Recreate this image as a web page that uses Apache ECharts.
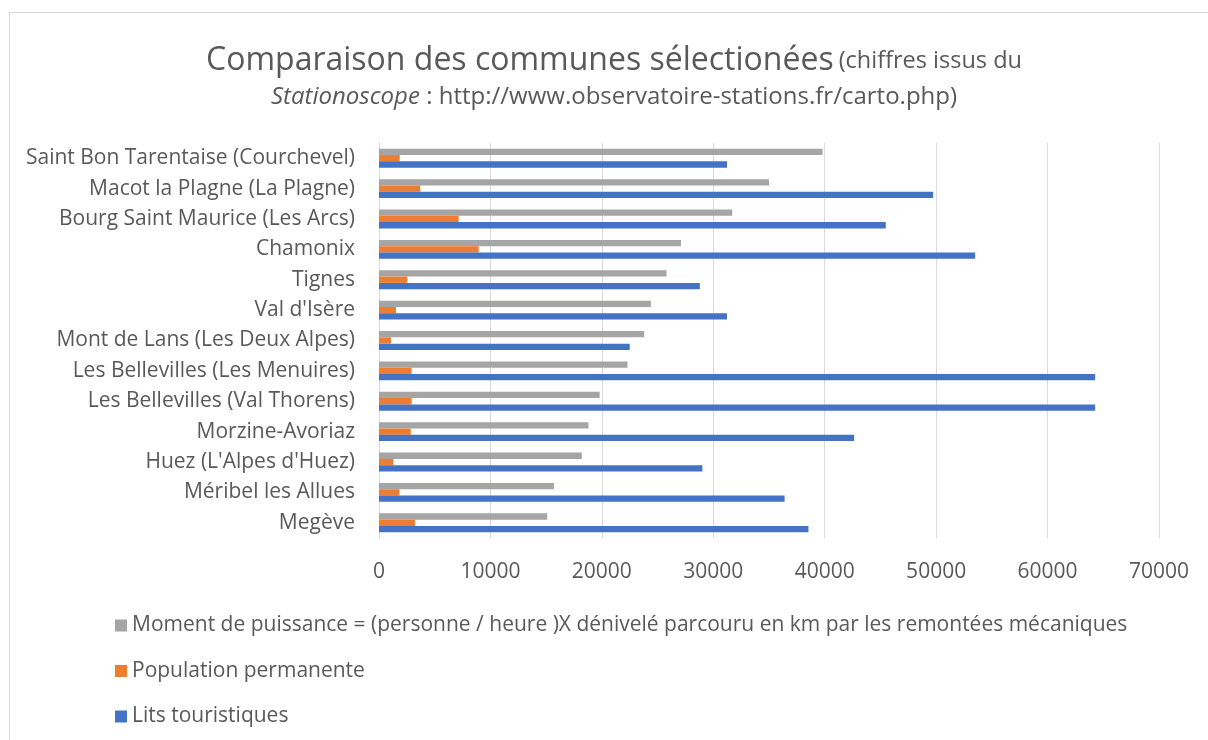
<!DOCTYPE html>
<html><head><meta charset="utf-8">
<script src="https://cdn.jsdelivr.net/npm/echarts@6/dist/echarts.min.js"></script>
<style>html,body{margin:0;padding:0;background:#fff}#c{width:1208px;height:740px}</style>
</head><body><div id="c"></div>
<script>
const categories = ["Saint Bon Tarentaise (Courchevel)","Macot la Plagne (La Plagne)","Bourg Saint Maurice (Les Arcs)","Chamonix","Tignes","Val d'Isère","Mont de Lans (Les Deux Alpes)","Les Bellevilles (Les Menuires)","Les Bellevilles (Val Thorens)","Morzine-Avoriaz","Huez (L'Alpes d'Huez)","Méribel les Allues","Megève"];
const momentPuissance = [39800,35000,31700,27100,25800,24400,23800,22300,19800,18800,18200,15700,15100];
const populationPermanente = [1860,3700,7150,8950,2540,1530,1080,2930,2930,2850,1290,1830,3230];
const litsTouristiques = [31230,49730,45480,53500,28790,31230,22500,64270,64270,42640,29020,36400,38540];
const seriesNames = ["Moment de puissance = (personne / heure )X dénivelé parcouru en km par les remontées mécaniques","Population permanente","Lits touristiques"];
const FONT = "Open Sans";
const chart = echarts.init(document.getElementById('c'), null, {renderer:'canvas'});
chart.setOption({
  animation:false,
  color:['#a5a5a5','#ed7d31','#4472c4'],
  title:{
    left:609, top:38, textAlign:'center',
    text:'{a|Comparaison des communes sélectionées} {b|(chiffres issus du}\n{i|Stationoscope}{c| : http://www.observatoire-stations.fr/carto.php)}',
    textStyle:{
      fontWeight:'normal',
      rich:{
        a:{fontFamily:FONT,fontSize:32,fontWeight:'normal',color:'#595959',lineHeight:36},
        b:{fontFamily:FONT,fontSize:23.5,fontWeight:'normal',color:'#595959',lineHeight:36},
        c:{fontFamily:FONT,fontSize:24,fontWeight:'normal',color:'#595959',lineHeight:36},
        i:{fontFamily:FONT,fontSize:24,fontWeight:'normal',fontStyle:'italic',color:'#595959',lineHeight:36}
      }
    }
  },
  graphic:[{type:'rect',shape:{x:9.5,y:12.5,width:1250,height:800},style:{fill:'none',stroke:'#d9d9d9',lineWidth:1},silent:true}],
  legend:{
    orient:'vertical', left:110, top:610, itemWidth:12, itemHeight:12, itemGap:24.5, icon:'rect',
    textStyle:{fontFamily:FONT,fontSize:21,color:'#595959',lineHeight:20},
    data:seriesNames
  },
  grid:{left:379,right:49,top:143,bottom:202,containLabel:false},
  xAxis:{type:'value',min:0,max:70000,interval:10000,
    axisLine:{show:false},axisTick:{show:false},
    splitLine:{lineStyle:{color:'#d9d9d9',width:1}},
    axisLabel:{fontFamily:FONT,fontSize:21,color:'#595959',margin:24,formatter:function(v){return String(v);}}},
  yAxis:{type:'category',data:categories,inverse:true,
    axisLine:{lineStyle:{color:'#d9d9d9'}},axisTick:{show:false},
    axisLabel:{fontFamily:FONT,fontSize:21,color:'#595959',margin:24}},
  series:[
    {name:seriesNames[0],type:'bar',data:momentPuissance,barWidth:6.3,barGap:'0%'},
    {name:seriesNames[1],type:'bar',data:populationPermanente,barWidth:6.3,barGap:'0%'},
    {name:seriesNames[2],type:'bar',data:litsTouristiques,barWidth:6.3,barGap:'0%'}
  ]
});
</script></body></html>
